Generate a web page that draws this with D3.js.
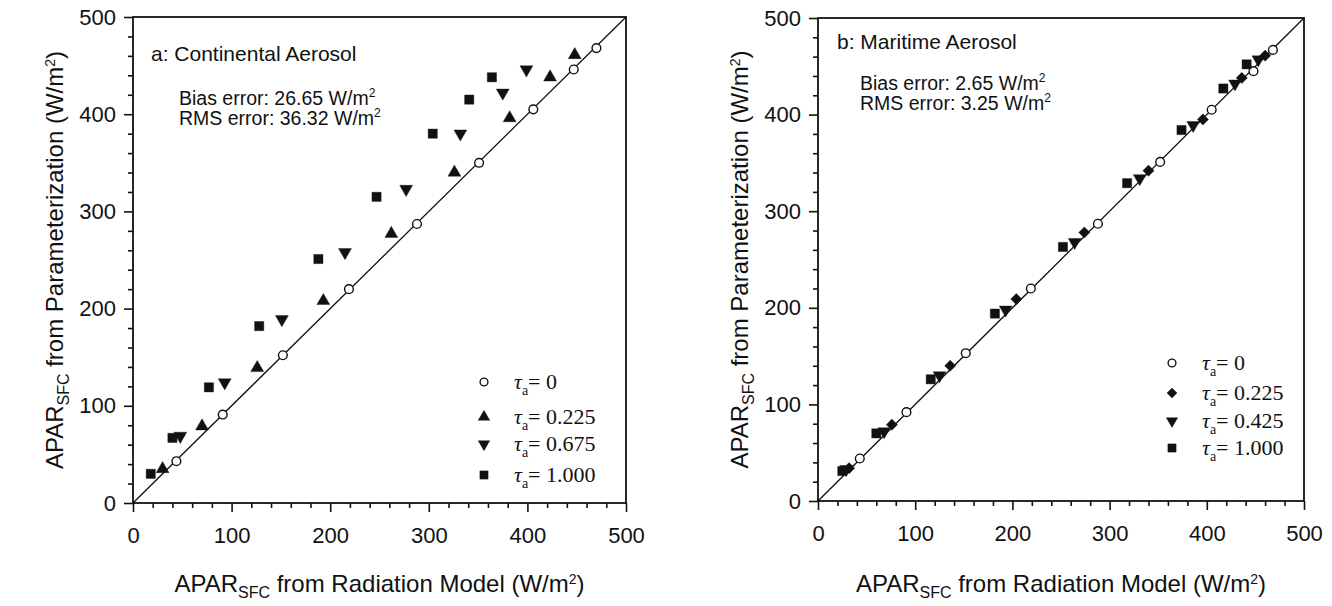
<!DOCTYPE html>
<html>
<head>
<meta charset="utf-8">
<script src="https://cdn.jsdelivr.net/npm/d3@7"></script>
<style>
body {margin:0; background:#fff;}
svg text {font-family:"Liberation Sans", Arial, Helvetica, sans-serif; fill:#111;}
.axis path {display:none;}
.axis line {stroke:#111; stroke-width:1.6;}
.axis text {font-family:"Liberation Sans", Arial, sans-serif; font-size:22px; fill:#111;}
.frame {fill:none; stroke:#111; stroke-width:1.8;}
.leg text, text.leg {font-family:"Liberation Serif", "Times New Roman", serif; font-size:22px;}
</style>
</head>
<body>
<svg width="1332" height="606"></svg>
<script>
// tick values
var majorTicks = [0, 100, 200, 300, 400, 500];
var minorTicks = [20,40,60,80,120,140,160,180,220,240,260,280,320,340,360,380,420,440,460,480];

// panel a: continental aerosol  [model, parameterization]
var aTau0    = [[44,43],[91,91],[152,152],[219,220],[288,287],[351,350],[406,405],[447,446],[470,468]];
var aTau225  = [[30,35],[70,79],[126,139],[193,208],[262,277],[326,340],[382,396],[423,438],[448,461]];
var aTau675  = [[48,69],[93,124],[151,189],[215,258],[277,323],[332,380],[375,422],[399,446]];
var aTau1000 = [[18,30],[40,67],[77,119],[128,182],[188,251],[247,315],[304,380],[341,415],[364,438]];
var aLegend  = ["0", "0.225", "0.675", "1.000"];
var aStats   = ["26.65", "36.32"];

// panel b: maritime aerosol
var bTau0    = [[43,44],[91,92],[152,153],[219,220],[288,287],[352,351],[405,405],[448,445],[468,467]];
var bTau225  = [[32,34],[76,79],[136,140],[204,209],[274,278],[340,342],[396,395],[436,438],[460,461]];
var bTau425  = [[29,33],[68,72],[125,130],[193,198],[264,268],[331,334],[386,389],[429,432],[453,457]];
var bTau1000 = [[25,31],[60,70],[116,126],[182,194],[252,263],[318,329],[374,384],[417,427],[441,452]];
var bLegend  = ["0", "0.225", "0.425", "1.000"];
var bStats   = ["2.65", "3.25"];

var svg = d3.select("svg");

function supText(sel, main, sup, after) {
  sel.append("tspan").text(main);
  sel.append("tspan").attr("dy", -8).attr("font-size", "0.62em").text(sup);
  if (after) sel.append("tspan").attr("dy", 8).text(after);
}

function panel(o) {
  var x = d3.scaleLinear().domain([0, 500]).range(o.xr);
  var y = d3.scaleLinear().domain([0, 500]).range(o.yr);
  var g = svg.append("g");

  g.append("g").attr("class", "axis").attr("transform", "translate(0," + o.yr[0] + ")")
    .call(d3.axisBottom(x).tickValues(minorTicks).tickSize(5).tickFormat(""));
  g.append("g").attr("class", "axis").attr("transform", "translate(0," + o.yr[0] + ")")
    .call(d3.axisBottom(x).tickValues(majorTicks).tickSize(9).tickPadding(15).tickFormat(d3.format("d")));
  g.append("g").attr("class", "axis").attr("transform", "translate(" + o.xr[0] + ",0)")
    .call(d3.axisLeft(y).tickValues(minorTicks).tickSize(5).tickFormat(""));
  g.append("g").attr("class", "axis").attr("transform", "translate(" + o.xr[0] + ",0)")
    .call(d3.axisLeft(y).tickValues(majorTicks).tickSize(9).tickPadding(8).tickFormat(d3.format("d")));

  g.append("rect").attr("class", "frame")
    .attr("x", o.xr[0]).attr("y", o.yr[1])
    .attr("width", o.xr[1] - o.xr[0]).attr("height", o.yr[0] - o.yr[1]);

  g.append("line")
    .attr("x1", x(0)).attr("y1", y(0)).attr("x2", x(500)).attr("y2", y(500))
    .attr("stroke", "#111").attr("stroke-width", 1.3);

  o.series.forEach(function(s, i) {
    var sym = d3.symbol(s.type, s.size)();
    g.append("g").selectAll("path").data(s.data).join("path")
      .attr("transform", function(d) { return "translate(" + x(d[0]) + "," + y(d[1]) + ") rotate(" + (s.rot || 0) + ")"; })
      .attr("d", sym)
      .attr("fill", s.open ? "#fff" : "#111")
      .attr("stroke", "#111").attr("stroke-width", s.open ? 1.4 : 0.4);

    // legend
    var ly = o.legY[i];
    g.append("path")
      .attr("transform", "translate(" + o.legX + "," + ly + ") rotate(" + (s.rot || 0) + ")")
      .attr("d", d3.symbol(s.type, s.size * 0.8)())
      .attr("fill", s.open ? "#fff" : "#111")
      .attr("stroke", "#111").attr("stroke-width", s.open ? 1.4 : 0.4);
    var t = g.append("text").attr("class", "leg").attr("x", o.legX + 30).attr("y", ly + 7);
    t.append("tspan").attr("font-style", "italic").text("\u03c4");
    t.append("tspan").attr("dy", 6).attr("font-size", "14px").text("a");
    t.append("tspan").attr("dy", -6).text("= " + o.legend[i]);
  });

  // panel title and error statistics
  g.append("text").attr("x", o.titleX).attr("y", o.titleY).attr("font-size", 21).text(o.title);
  supText(g.append("text").attr("x", o.statX).attr("y", o.statY).attr("font-size", 19.5),
    "Bias error: " + o.stats[0] + " W/m", "2");
  supText(g.append("text").attr("x", o.statX).attr("y", o.statY + 20).attr("font-size", 19.5),
    "RMS error: " + o.stats[1] + " W/m", "2");

  // axis titles
  var cx = (o.xr[0] + o.xr[1]) / 2;
  var xt = g.append("text").attr("x", cx).attr("y", 592).attr("text-anchor", "middle").attr("font-size", 24);
  xt.append("tspan").text("APAR");
  xt.append("tspan").attr("dy", 6).attr("font-size", "16px").text("SFC");
  xt.append("tspan").attr("dy", -6).text(" from Radiation Model (W/m");
  xt.append("tspan").attr("dy", -8).attr("font-size", "14px").text("2");
  xt.append("tspan").attr("dy", 8).text(")");

  var cy = (o.yr[0] + o.yr[1]) / 2;
  var yt = g.append("text").attr("transform", "translate(" + o.yTitleX + "," + cy + ") rotate(-90)")
    .attr("text-anchor", "middle").attr("font-size", 24);
  yt.append("tspan").text("APAR");
  yt.append("tspan").attr("dy", 6).attr("font-size", "16px").text("SFC");
  yt.append("tspan").attr("dy", -6).text(" from Parameterization (W/m");
  yt.append("tspan").attr("dy", -8).attr("font-size", "14px").text("2");
  yt.append("tspan").attr("dy", 8).text(")");
}

panel({
  xr: [133, 626], yr: [503, 17],
  series: [
    {data: aTau0, type: d3.symbolCircle, size: 60, open: true},
    {data: aTau225, type: d3.symbolTriangle, size: 72},
    {data: aTau675, type: d3.symbolTriangle, size: 72, rot: 180},
    {data: aTau1000, type: d3.symbolSquare, size: 85}
  ],
  legend: aLegend, legX: 484, legY: [382, 417, 444, 475],
  title: "a: Continental Aerosol", titleX: 151, titleY: 61,
  stats: aStats, statX: 179, statY: 105,
  yTitleX: 63
});

panel({
  xr: [818, 1304], yr: [501, 18],
  series: [
    {data: bTau0, type: d3.symbolCircle, size: 60, open: true},
    {data: bTau225, type: d3.symbolSquare, size: 62, rot: 45},
    {data: bTau425, type: d3.symbolTriangle, size: 70, rot: 180},
    {data: bTau1000, type: d3.symbolSquare, size: 85}
  ],
  legend: bLegend, legX: 1172, legY: [363, 393, 421, 448],
  title: "b: Maritime Aerosol", titleX: 837, titleY: 49,
  stats: bStats, statX: 860, statY: 90,
  yTitleX: 748
});
</script>
</body>
</html>
